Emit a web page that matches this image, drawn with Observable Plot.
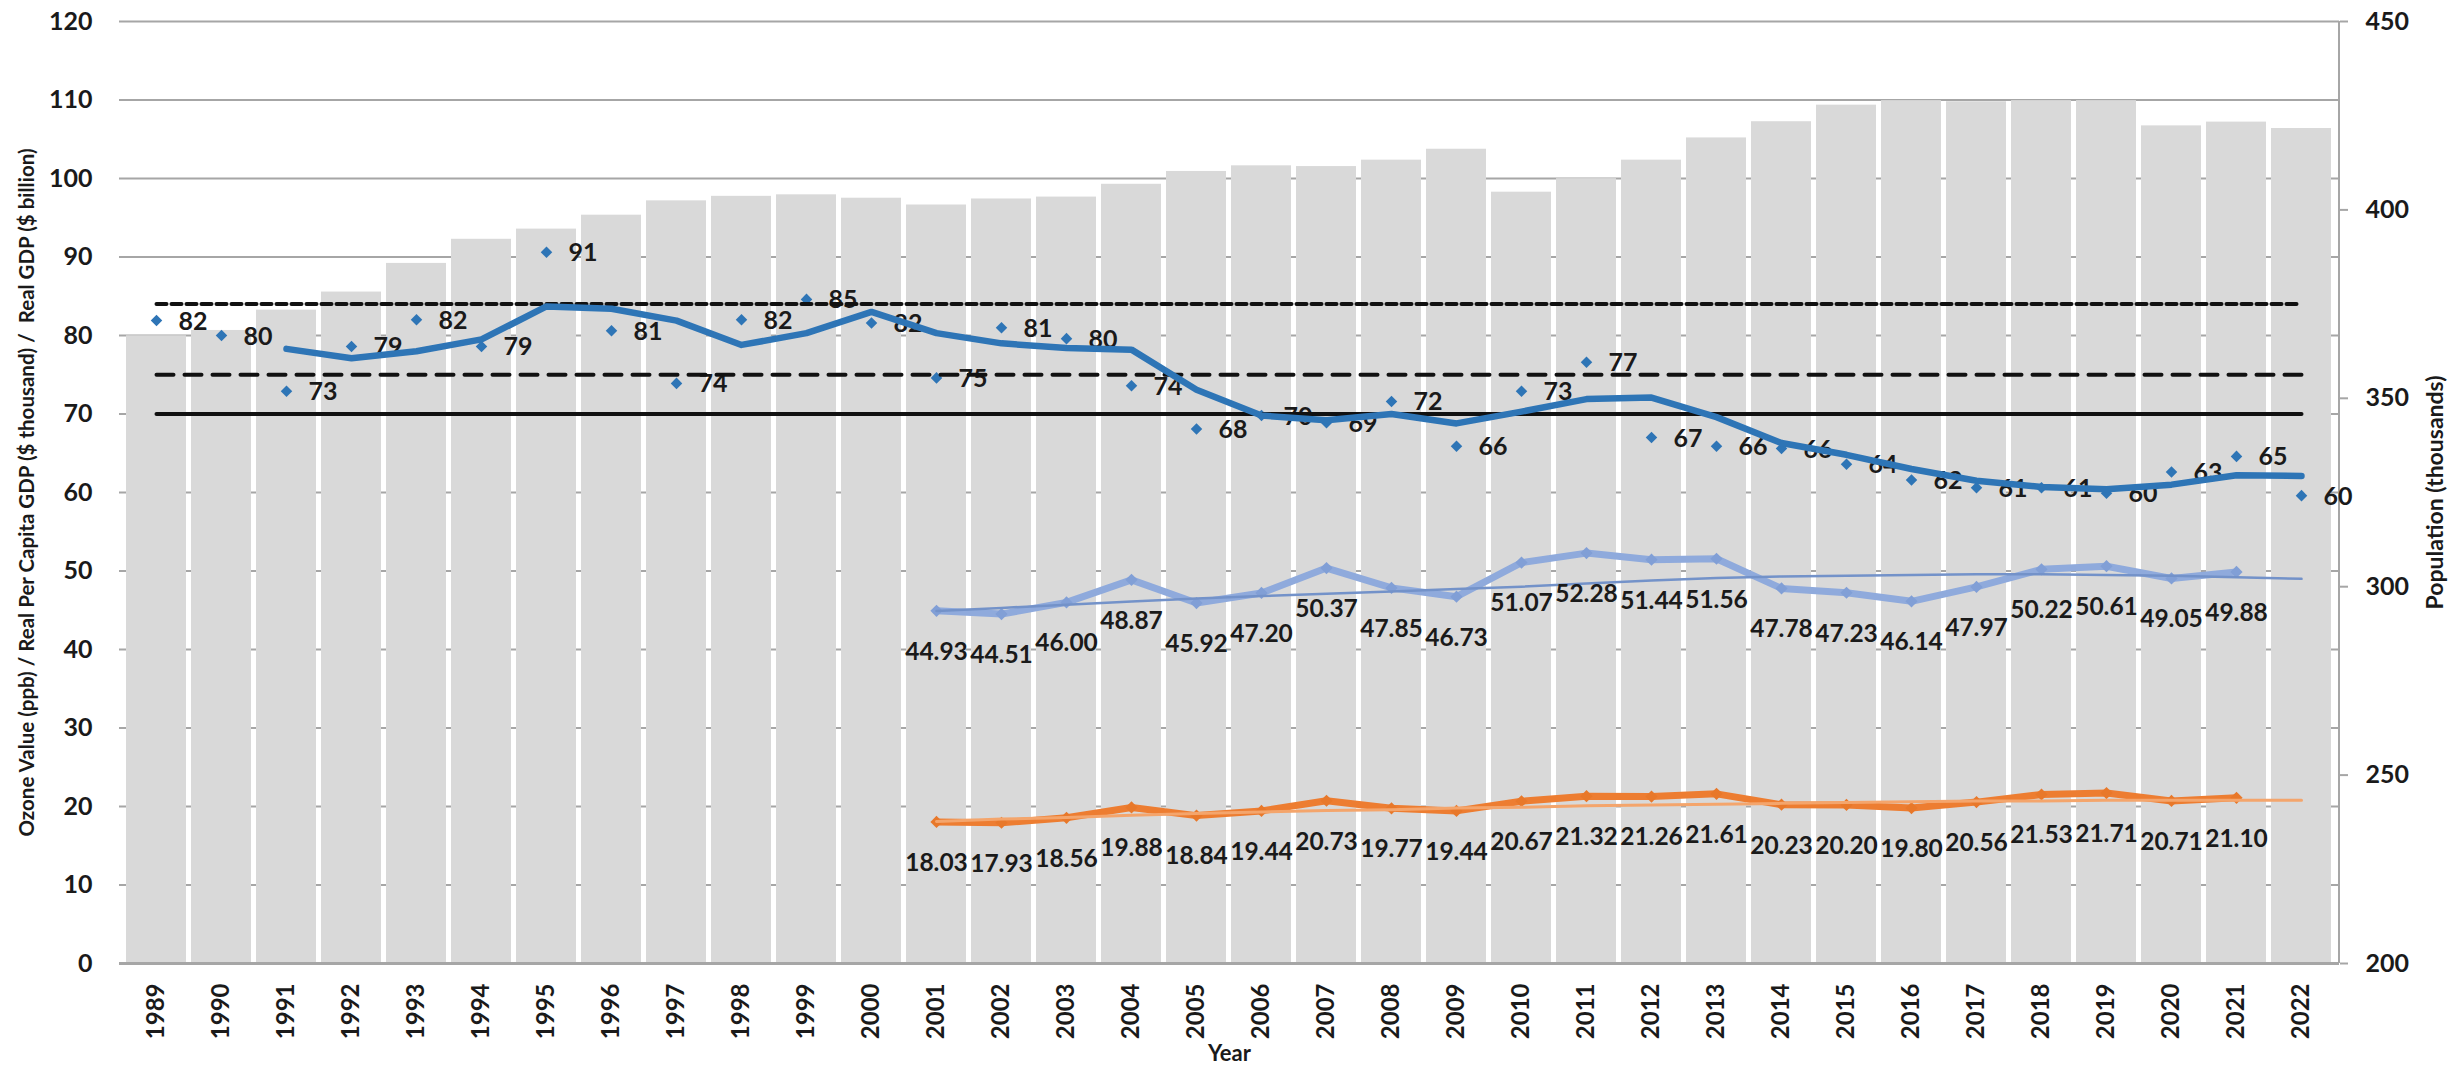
<!DOCTYPE html>
<html>
<head>
<meta charset="utf-8">
<script src="https://cdn.jsdelivr.net/npm/d3@7"></script>
<script src="https://cdn.jsdelivr.net/npm/@observablehq/plot@0.6"></script>
<style>
  html, body { margin: 0; padding: 0; background: #fff; }
  #chart svg { display: block; }
</style>
</head>
<body>
<div id="chart"></div>
<script>
// ---------- DATA ----------
const years = [1989, 1990, 1991, 1992, 1993, 1994, 1995, 1996, 1997, 1998, 1999, 2000,
  2001, 2002, 2003, 2004, 2005, 2006, 2007, 2008, 2009, 2010, 2011, 2012, 2013, 2014,
  2015, 2016, 2017, 2018, 2019, 2020, 2021, 2022];

// Population (thousands) – right axis
const population = [366.6, 368.0, 373.4, 378.2, 385.8, 392.2, 394.9, 398.6, 402.4, 403.6,
  404.0, 403.1, 401.3, 402.9, 403.4, 406.8, 410.2, 411.7, 411.5, 413.2, 416.1, 404.7,
  408.3, 413.2, 419.1, 423.4, 427.8, 429.0, 428.7, 429.0, 429.0, 422.3, 423.3, 421.6];

// Ozone value (ppb) – annual points
const ozone = [81.9, 80.0, 72.9, 78.6, 82.0, 78.6, 90.6, 80.6, 73.9, 82.0, 84.6, 81.6,
  74.6, 81.0, 79.6, 73.6, 68.1, 69.8, 68.9, 71.6, 65.9, 72.9, 76.6, 67.0, 65.9, 65.6,
  63.6, 61.6, 60.6, 60.6, 59.9, 62.6, 64.6, 59.6];

// Ozone 3-year design value line (1991-2022)
const ozoneLineYears = [1991, 1992, 1993, 1994, 1995, 1996, 1997, 1998, 1999, 2000, 2001,
  2002, 2003, 2004, 2005, 2006, 2007, 2008, 2009, 2010, 2011, 2012, 2013, 2014, 2015,
  2016, 2017, 2018, 2019, 2020, 2021, 2022];
const ozoneLine = [78.3, 77.1, 78.0, 79.5, 83.7, 83.4, 81.9, 78.8, 80.3, 83.0, 80.3,
  79.0, 78.4, 78.2, 73.1, 69.8, 69.2, 70.0, 68.8, 70.3, 71.9, 72.1, 69.6, 66.3, 64.8,
  63.0, 61.5, 60.7, 60.4, 61.0, 62.2, 62.1];

// Real GDP ($ billion) and real per capita GDP ($ thousand), 2001-2021
const gdpYears = [2001, 2002, 2003, 2004, 2005, 2006, 2007, 2008, 2009, 2010, 2011,
  2012, 2013, 2014, 2015, 2016, 2017, 2018, 2019, 2020, 2021];
const realGDP = [44.93, 44.51, 46.00, 48.87, 45.92, 47.20, 50.37, 47.85, 46.73, 51.07,
  52.28, 51.44, 51.56, 47.78, 47.23, 46.14, 47.97, 50.22, 50.61, 49.05, 49.88];
const perCapitaGDP = [18.03, 17.93, 18.56, 19.88, 18.84, 19.44, 20.73, 19.77, 19.44,
  20.67, 21.32, 21.26, 21.61, 20.23, 20.20, 19.80, 20.56, 21.53, 21.71, 20.71, 21.10];

// Trend lines (2001-2022)
const trendYears = [2001, 2002, 2003, 2004, 2005, 2006, 2007, 2008, 2009, 2010, 2011,
  2012, 2013, 2014, 2015, 2016, 2017, 2018, 2019, 2020, 2021, 2022];
const realGDPTrend = [44.9, 45.3, 45.7, 46.1, 46.5, 46.8, 47.1, 47.4, 47.7, 48.0, 48.4,
  48.8, 49.1, 49.3, 49.4, 49.5, 49.6, 49.6, 49.5, 49.4, 49.2, 49.0];
const perCapitaTrend = [18.1, 18.4, 18.6, 18.9, 19.1, 19.3, 19.5, 19.6, 19.8, 19.9, 20.1,
  20.2, 20.3, 20.4, 20.5, 20.6, 20.7, 20.7, 20.8, 20.8, 20.8, 20.8];

// Ozone standards (ppb): 1997, 2008, 2015 NAAQS
const standardLevels = [84, 75, 70];
const standardSpan = [1989, 2022];

// Axis ticks
const leftTicks = [0, 10, 20, 30, 40, 50, 60, 70, 80, 90, 100, 110, 120];
const rightTicks = [200, 250, 300, 350, 400, 450];
const popDomain = [200, 450];
const leftDomain = [0, 120];

const leftTitle = "Ozone Value (ppb) / Real Per Capita GDP ($ thousand) /  Real GDP ($ billion)";
const rightTitle = "Population (thousands)";
const xTitle = "Year";

// ---------- TABLES ----------
const popToLeft = d3.scaleLinear().domain(popDomain).range(leftDomain);
const popTable = years.map((year, i) => ({year, pop: population[i]}));
const ozTable = years.map((year, i) => ({year, v: ozone[i]}));
const ozLineTable = ozoneLineYears.map((year, i) => ({year, v: ozoneLine[i]}));
const gdpTable = gdpYears.map((year, i) => ({year, v: realGDP[i]}));
const pcTable = gdpYears.map((year, i) => ({year, v: perCapitaGDP[i]}));
const gdpTrendTable = trendYears.map((year, i) => ({year, v: realGDPTrend[i]}));
const pcTrendTable = trendYears.map((year, i) => ({year, v: perCapitaTrend[i]}));
const stdLine = (lvl) => standardSpan.map(year => ({year, v: lvl}));

const textColor = "#1a1a1a";
const fmt2 = d3.format(".2f");

// right axis line drawn from the plot dimensions
function rightAxisLine(index, scales, values, dim) {
  const x = dim.width - dim.marginRight;
  const line = document.createElementNS("http://www.w3.org/2000/svg", "line");
  line.setAttribute("x1", x); line.setAttribute("x2", x);
  line.setAttribute("y1", dim.marginTop); line.setAttribute("y2", dim.height - dim.marginBottom);
  line.setAttribute("stroke", "#a6a6a6"); line.setAttribute("stroke-width", 2);
  return line;
}

const chart = Plot.plot({
  width: 2461,
  height: 1073,
  marginTop: 21,
  marginBottom: 110,
  marginLeft: 119,
  marginRight: 122,
  style: {fontFamily: "Lato, 'Open Sans', sans-serif", fontWeight: "bold", color: textColor, background: "#fff", overflow: "visible"},
  x: {type: "band", domain: years, paddingInner: 0.07, paddingOuter: 0.035},
  y: {domain: leftDomain},
  marks: [
    Plot.gridY(leftTicks, {stroke: "#a6a6a6", strokeOpacity: 1, strokeWidth: 2}),
    Plot.barY(popTable, {x: "year", y1: 0, y2: d => popToLeft(d.pop), fill: "#d9d9d9"}),
    Plot.ruleY([0], {stroke: "#a6a6a6", strokeWidth: 3}),
    rightAxisLine,

    // axes
    Plot.axisY(leftTicks, {anchor: "left", tickSize: 0, tickPadding: 27, fontSize: 25, fontWeight: "bold", fill: textColor, label: null}),
    Plot.axisY(rightTicks.map(t => popToLeft(t)), {anchor: "right", tickSize: 8, tickPadding: 18, stroke: "#a6a6a6", strokeWidth: 2,
      tickFormat: d => String(Math.round(popToLeft.invert(d))), fontSize: 25, fontWeight: "bold", fill: textColor, label: null}),
    Plot.axisX({tickRotate: -90, tickSize: 0, tickPadding: 20, fontSize: 24, fontWeight: "bold", fill: textColor, tickFormat: d => String(d), label: null}),

    // ozone points + labels
    Plot.dot(ozTable, {x: "year", y: "v", symbol: "diamond2", r: 5.2, fill: "#2E75B6", stroke: null}),
    Plot.text(ozTable, {x: "year", y: "v", text: d => String(Math.round(d.v)), dx: 22, dy: 1, textAnchor: "start", fontSize: 25, fontWeight: "bold", fill: textColor}),

    // standards
    Plot.line(stdLine(standardLevels[0]), {x: "year", y: "v", stroke: "#111", strokeWidth: 4, strokeDasharray: "10,5"}),
    Plot.line(stdLine(standardLevels[1]), {x: "year", y: "v", stroke: "#111", strokeWidth: 4, strokeDasharray: "17,11"}),
    Plot.line(stdLine(standardLevels[2]), {x: "year", y: "v", stroke: "#111", strokeWidth: 4}),

    // ozone design value line
    Plot.line(ozLineTable, {x: "year", y: "v", stroke: "#2E75B6", strokeWidth: 6.5, strokeLinejoin: "round", strokeLinecap: "round"}),

    // real GDP
    Plot.line(gdpTable, {x: "year", y: "v", stroke: "#8FAADC", strokeWidth: 7, strokeLinejoin: "round"}),
    Plot.dot(gdpTable, {x: "year", y: "v", symbol: "diamond2", r: 5.5, fill: "#819FD6", stroke: null}),
    Plot.line(gdpTrendTable, {x: "year", y: "v", stroke: "#7392C9", strokeWidth: 2.5}),
    Plot.text(gdpTable, {x: "year", y: "v", text: d => fmt2(d.v), dy: 41, fontSize: 24.5, fontWeight: "bold", fill: textColor}),

    // per capita GDP
    Plot.line(pcTable, {x: "year", y: "v", stroke: "#ED7D31", strokeWidth: 7, strokeLinejoin: "round"}),
    Plot.dot(pcTable, {x: "year", y: "v", symbol: "diamond2", r: 5.5, fill: "#E8782A", stroke: null}),
    Plot.line(pcTrendTable, {x: "year", y: "v", stroke: "#F4A56C", strokeWidth: 3}),
    Plot.text(pcTable, {x: "year", y: "v", text: d => fmt2(d.v), dy: 41, fontSize: 24.5, fontWeight: "bold", fill: textColor}),

    // titles
    Plot.text([leftTitle], {frameAnchor: "left", textAnchor: "middle", dx: -92, rotate: -90, fontSize: 20.5, fontWeight: "bold", fill: textColor}),
    Plot.text([rightTitle], {frameAnchor: "right", textAnchor: "middle", dx: 96, rotate: -90, fontSize: 23, fontWeight: "bold", fill: textColor}),
    Plot.text([xTitle], {frameAnchor: "bottom", dy: 97, fontSize: 22, fontWeight: "bold", fill: textColor})
  ]
});
document.getElementById("chart").appendChild(chart);
</script>
</body>
</html>
